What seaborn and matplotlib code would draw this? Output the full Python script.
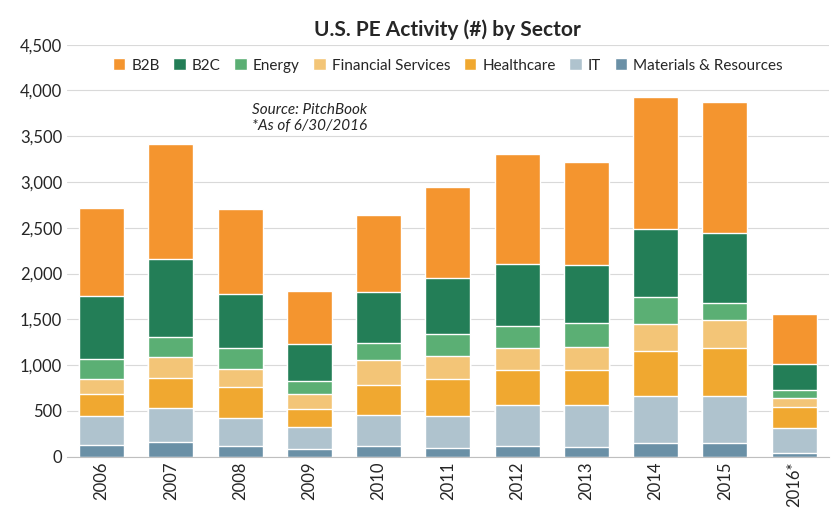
import numpy as np
import pandas as pd
import matplotlib.pyplot as plt
import seaborn as sns

years = ["2006", "2007", "2008", "2009", "2010", "2011", "2012", "2013", "2014", "2015", "2016*"]
materials = [130, 165, 120, 80, 120, 100, 120, 110, 155, 155, 45]
it = [320, 370, 300, 250, 340, 350, 440, 450, 505, 505, 265]
healthcare = [240, 320, 340, 195, 320, 395, 385, 385, 490, 525, 230]
financial = [155, 230, 195, 155, 280, 260, 240, 250, 300, 305, 105]
energy = [220, 220, 230, 145, 180, 235, 240, 260, 295, 185, 80]
b2c = [690, 855, 595, 405, 560, 615, 685, 640, 745, 765, 285]
b2b = [965, 1250, 930, 580, 840, 985, 1200, 1120, 1435, 1435, 545]

sectors = ["Materials & Resources", "IT", "Healthcare", "Financial Services", "Energy", "B2C", "B2B"]
series = [materials, it, healthcare, financial, energy, b2c, b2b]
colors = ["#6A90A6", "#AFC3CE", "#F0A830", "#F3C577", "#5BAF74", "#237E57", "#F4952F"]

sns.set_style("white")
plt.rcParams["font.family"] = ["Lato", "DejaVu Sans"]

fig, ax = plt.subplots(figsize=(8.37, 5.25), dpi=100)
cum = np.cumsum(np.array(series), axis=0)
for i in range(len(sectors) - 1, -1, -1):
    df = pd.DataFrame({"year": years, "value": cum[i]})
    sns.barplot(data=df, x="year", y="value", color=colors[i], width=0.65,
                saturation=1, ax=ax, label=sectors[i], zorder=2)
h, l = ax.get_legend_handles_labels()
hmap = dict(zip(l, h))
order = sectors[::-1]
ax.legend([hmap[o] for o in order], order, ncol=7, loc="upper center",
          bbox_to_anchor=(0.5, 1.0), frameon=False, fontsize=11,
          handlelength=0.8, handleheight=0.8, columnspacing=0.9, handletextpad=0.4)

ax.set_ylim(0, 4500)
ax.set_yticks(range(0, 4501, 500))
ax.yaxis.set_major_formatter(plt.FuncFormatter(lambda v, p: f"{int(v):,}"))
ax.grid(axis="y", color="#D9D9D9", linewidth=0.8, zorder=0)
ax.set_axisbelow(True)
for s in ["top", "right", "left"]:
    ax.spines[s].set_visible(False)
ax.spines["bottom"].set_color("#BFBFBF")
ax.set_xlabel("")
ax.set_ylabel("")
ax.tick_params(axis="x", rotation=90, labelsize=12, length=0)
ax.tick_params(axis="y", labelsize=12, length=0)
ax.set_title("U.S. PE Activity (#) by Sector", fontsize=15, fontweight="bold", pad=6)
ax.text(3.0, 3700, "Source: PitchBook\n*As of 6/30/2016", fontsize=11, style="italic",
        ha="center", va="center")
fig.subplots_adjust(left=0.08, right=0.99, top=0.915, bottom=0.13)
fig.savefig("out.png")
